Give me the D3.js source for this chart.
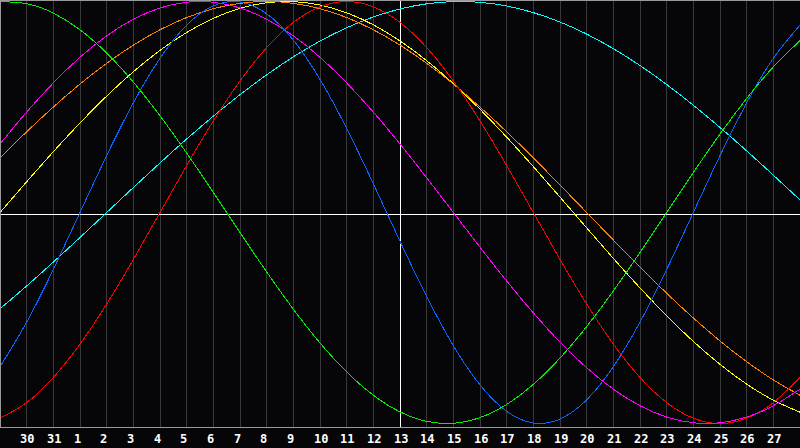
<!DOCTYPE html>
<html>
<head>
<meta charset="utf-8">
<script src="https://cdn.jsdelivr.net/npm/d3@7"></script>
<style>
  html, body { margin: 0; padding: 0; background: #060608; }
  svg { display: block; }
</style>
</head>
<body>
<svg id="chart" width="800" height="448"></svg>
<script>
// Tick labels (day of month) for grid lines 1..29
const tickLabels = ["30","31","1","2","3","4","5","6","7","8","9","10","11","12","13","14","15","16","17","18","19","20","21","22","23","24","25","26","27"];

// Series values, one per day slot 0..30 (-1 .. 1)
const cyanVals = [-0.4566,-0.3482,-0.2349,-0.1183,0,0.1183,0.2349,0.3482,0.4566,0.5585,0.6526,0.7378,0.8126,0.8758,0.9267,0.9646,0.9890,0.9996,0.9961,0.9786,0.9473,0.9028,0.8457,0.7764,0.6967,0.6068,0.5084,0.4031,0.2921,0.1769,0.0592];
const yellowVals = [0,0.1456,0.2881,0.4245,0.5517,0.6671,0.7684,0.8533,0.9203,0.9675,0.9940,0.9993,0.9834,0.9465,0.8894,0.8133,0.7198,0.6110,0.4894,0.3572,0.2174,0.0730,-0.0730,-0.2174,-0.3572,-0.4894,-0.6110,-0.7198,-0.8133,-0.8894,-0.9465];
const orangeVals = [0.2588,0.3827,0.5,0.6088,0.7071,0.7934,0.8660,0.9239,0.9659,0.9914,1,0.9914,0.9659,0.9239,0.8660,0.7934,0.7071,0.6088,0.5,0.3827,0.2588,0.1305,0,-0.1305,-0.2588,-0.3827,-0.5,-0.6088,-0.7071,-0.7934,-0.8660];
const redVals = [-0.9749,-0.9010,-0.7818,-0.6235,-0.4339,-0.2225,0,0.2225,0.4339,0.6235,0.7818,0.9010,0.9749,1,0.9749,0.9010,0.7818,0.6235,0.4339,0.2225,0,-0.2225,-0.4339,-0.6235,-0.7818,-0.9010,-0.9749,-1,-0.9749,-0.9010,-0.7818];
const magentaVals = [0.3247,0.4759,0.6142,0.7357,0.8372,0.9158,0.9694,0.9966,0.9966,0.9694,0.9158,0.8372,0.7357,0.6142,0.4759,0.3247,0.1646,0,-0.1646,-0.3247,-0.4759,-0.6142,-0.7357,-0.8372,-0.9158,-0.9694,-0.9966,-0.9966,-0.9694,-0.9158,-0.8372];
const blueVals = [-0.7308,-0.5196,-0.2698,0,0.2698,0.5196,0.7308,0.8879,0.9791,0.9977,0.9423,0.8170,0.6311,0.3984,0.1362,-0.1362,-0.3984,-0.6311,-0.8170,-0.9423,-0.9977,-0.9791,-0.8879,-0.7308,-0.5196,-0.2698,0,0.2698,0.5196,0.7308,0.8879];
const greenVals = [0.9989,0.9898,0.9450,0.8660,0.7557,0.6182,0.4582,0.2817,0.0951,-0.0951,-0.2817,-0.4582,-0.6182,-0.7557,-0.8660,-0.9450,-0.9898,-0.9989,-0.9718,-0.9096,-0.8146,-0.6901,-0.5406,-0.3717,-0.1893,0,0.1893,0.3717,0.5406,0.6901,0.8146];

const seriesList = [
  { name: "cyan", color: "#00ffff", values: cyanVals },
  { name: "yellow", color: "#ffff00", values: yellowVals },
  { name: "orange", color: "#ff8000", values: orangeVals },
  { name: "red", color: "#ff0000", values: redVals },
  { name: "magenta", color: "#ff00ff", values: magentaVals },
  { name: "blue", color: "#0a64ff", values: blueVals },
  { name: "green", color: "#00f000", values: greenVals }
];

const svg = d3.select("#chart");
const W = 800, H = 448;
const x = d3.scaleLinear().domain([0, 30]).range([0, 800]);
const y = d3.scaleLinear().domain([-1, 1]).range([423.5, 1.5]);
const bottomY = 427.5;

svg.append("rect").attr("width", W).attr("height", H).attr("fill", "#060608");

// vertical grid lines
const gridIdx = d3.range(1, 30);
svg.append("g").selectAll("line").data(gridIdx).join("line")
  .attr("x1", d => Math.floor(x(d)) + 0.5)
  .attr("x2", d => Math.floor(x(d)) + 0.5)
  .attr("y1", 0).attr("y2", bottomY)
  .attr("stroke", d => d === 15 ? "#ffffff" : "#3a3a3a")
  .attr("stroke-width", 1)
  .attr("shape-rendering", "crispEdges");

// horizontal center line
svg.append("line")
  .attr("x1", 0).attr("x2", W)
  .attr("y1", 214.5).attr("y2", 214.5)
  .attr("stroke", "#ffffff").attr("stroke-width", 1)
  .attr("shape-rendering", "crispEdges");

// borders
svg.append("line").attr("x1", 0).attr("x2", W).attr("y1", 0.5).attr("y2", 0.5)
  .attr("stroke", "#9a9a9a").attr("shape-rendering", "crispEdges");
svg.append("line").attr("x1", 0.5).attr("x2", 0.5).attr("y1", 0).attr("y2", bottomY)
  .attr("stroke", "#9a9a9a").attr("shape-rendering", "crispEdges");
svg.append("line").attr("x1", 0).attr("x2", W).attr("y1", bottomY).attr("y2", bottomY)
  .attr("stroke", "#9a9a9a").attr("shape-rendering", "crispEdges");

// curves
const line = d3.line()
  .x((d, i) => x(i))
  .y(d => y(d))
  .curve(d3.curveNatural);

svg.append("clipPath").attr("id", "plotclip")
  .append("rect").attr("x", 1).attr("y", 1).attr("width", W - 1).attr("height", bottomY - 1);

svg.append("g").attr("clip-path", "url(#plotclip)")
  .selectAll("path").data(seriesList).join("path")
  .attr("d", d => line(d.values))
  .attr("fill", "none")
  .attr("stroke", d => d.color)
  .attr("stroke-width", 1)
  .attr("shape-rendering", "crispEdges");

// tick labels
svg.append("g").selectAll("text").data(tickLabels).join("text")
  .attr("x", (d, i) => Math.floor(x(i + 1)) - 6)
  .attr("y", 443)
  .attr("text-anchor", "start")
  .attr("fill", "#ffffff")
  .attr("font-family", "'DejaVu Sans Mono', monospace")
  .attr("font-weight", "bold")
  .attr("font-size", "12px")
  .text(d => d);
</script>
</body>
</html>
